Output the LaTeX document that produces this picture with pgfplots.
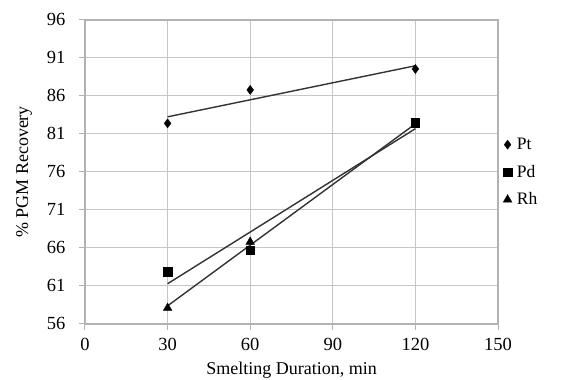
\documentclass[border=0pt]{standalone}
\usepackage{pgfplots}
\pgfplotsset{compat=1.18}
\usepackage{fontspec}
\setmainfont{Liberation Serif}
\begin{document}
\begin{tikzpicture}
\begin{axis}[
  scale only axis, width=413pt, height=304pt,
  xmin=0, xmax=150, ymin=56, ymax=96,
  xtick={0,30,60,90,120,150}, ytick={56,61,...,96},
  grid=major, major grid style={gray!45, line width=1pt},
  axis line style={gray!60, line width=1.2pt},
  tick style={gray!60, line width=1pt}, tick align=outside, major tick length=6pt,
  xtick pos=bottom, ytick pos=left,
  ticklabel style={font=\fontsize{18.5}{18.5}\selectfont},
  xticklabel style={yshift=-5pt},
  yticklabel style={xshift=-10pt, yshift=1pt},
  /pgf/number format/assume math mode=true,
  xlabel={Smelting Duration, min}, ylabel={\% PGM Recovery},
  label style={font=\fontsize{18}{18}\selectfont},
  xlabel style={yshift=-4pt}, ylabel style={yshift=8pt},
  legend style={draw=none, fill=none, at={(1.005,0.625)}, anchor=north west,
    font=\fontsize{17.5}{17.5}\selectfont, row sep=10pt, legend cell align=left},
  legend image code/.code={\draw[#1] plot coordinates {(0.3cm,0cm)};},
]
\addplot[forget plot, line width=1.4pt, black!80] coordinates {(30,83.26) (120,89.98)};
\addplot[forget plot, line width=1.4pt, black!80] coordinates {(30,61.30) (120,81.70)};
\addplot[forget plot, line width=1.4pt, black!80] coordinates {(30,58.39) (120,82.34)};
\addplot[only marks, mark=diamond*, mark size=4.5pt, black] coordinates {(30,82.4) (60,86.8) (120,89.55)};
\addplot[only marks, mark=square*, mark size=4.2pt, black] coordinates {(30,62.9) (60,65.7) (120,82.5)};
\addplot[only marks, mark=triangle*, mark size=5pt, black] coordinates {(30,58.1) (60,66.8) (120,82.2)};
\legend{\,Pt,\,Pd,\,Rh}
\end{axis}
\pgfresetboundingbox
\useasboundingbox (current axis.south west) ++(-85pt,-56pt) rectangle ++(565pt,380pt);
\end{tikzpicture}
\end{document}
